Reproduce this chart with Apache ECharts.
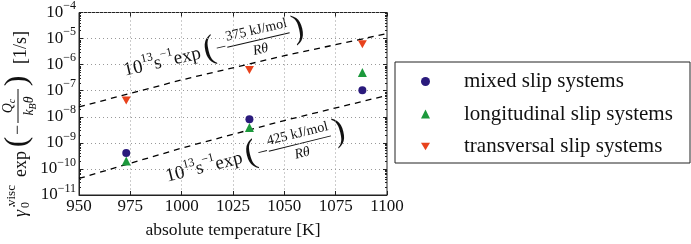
<!DOCTYPE html>
<html>
<head>
<meta charset="utf-8">
<script src="https://cdn.jsdelivr.net/npm/echarts@6/dist/echarts.min.js"></script>
<style>
  html, body { margin: 0; padding: 0; background: #fff; }
  #main { width: 691px; height: 244px; }
</style>
</head>
<body>
<div id="main"></div>
<script>
const tempK = [973, 1033, 1088];
const mixedRate = [4.1e-10, 8.0e-9, 1.05e-7];
const longRate = [2.0e-10, 3.9e-9, 5.0e-7];
const transRate = [4.2e-8, 6.2e-7, 6.0e-6];

// the two dashed reference curves, read at a few temperatures
const fitTemp = [950, 1000, 1050, 1100];
const fit375 = [2.4e-8, 2.6e-7, 2.2e-6, 1.55e-5];
const fit425 = [4.3e-11, 6.3e-10, 7.2e-9, 6.6e-8];

const seriesNames = ['mixed slip systems', 'longitudinal slip systems', 'transversal slip systems'];

const FONT = 'Liberation Serif';
const INK = '#111';
const DOWN_TRI = 'path://M0,0L20,0L10,17Z';

function zip(xs, ys) { return xs.map((x, i) => [x, ys[i]]); }

function txt(x, y, text, size, opts) {
  opts = opts || {};
  return {
    type: 'text', x: x, y: y, silent: true,
    style: {
      text: text, fill: INK,
      fontFamily: FONT, fontSize: size,
      fontStyle: opts.italic ? 'italic' : 'normal',
      textAlign: opts.align || 'left',
      textVerticalAlign: 'middle',
      rich: opts.rich
    }
  };
}

function bar(x1, x2, y) {
  return { type: 'line', silent: true, shape: { x1: x1, y1: y, x2: x2, y2: y }, style: { stroke: INK, lineWidth: 1 } };
}

const supRich = {
  b: { fontSize: 19, fontFamily: FONT, color: INK },
  s: { fontSize: 12, fontFamily: FONT, color: INK, padding: [0, 0, 15, 0] }
};

// 10^13 s^-1 exp(-E / R theta), laid out along the text direction
function arrhenius(x, y, deg, energy) {
  return {
    type: 'group', x: x, y: y, rotation: deg * Math.PI / 180, silent: true,
    children: [
      txt(0, 0, '{b|10}{s|13}{b|s}{s|−1}{b|exp}', 19, { rich: supRich }),
      txt(88, -2, '(', 34, { align: 'center' }),
      txt(100, 0, '−', 19, { align: 'center' }),
      bar(106, 170, 0),
      txt(138, -10, energy + ' kJ/mol', 14, { align: 'center' }),
      txt(138, 10, 'Rθ', 14, { align: 'center', italic: true }),
      txt(179, -2, ')', 34, { align: 'center' })
    ]
  };
}

const subRich = {
  i: { fontSize: 14, fontFamily: FONT, fontStyle: 'italic', color: INK },
  u: { fontSize: 10, fontFamily: FONT, fontStyle: 'italic', color: INK, padding: [8, 0, 0, 0] }
};

const yLabel = {
  type: 'group', x: 21, y: 217, rotation: Math.PI / 2, silent: true,
  children: [
    txt(0, 0, 'γ̇', 18, { italic: true }),
    txt(9, 5, '0', 12),
    txt(11, -9, 'visc', 13),
    txt(40, 0, 'exp', 18),
    txt(75, -3, '(', 32, { align: 'center' }),
    txt(87, -3, '−', 18, { align: 'center' }),
    bar(94, 128, -3),
    txt(111, -13, '{i|Q}{u|c}', 14, { align: 'center', rich: subRich }),
    txt(111, 8, '{i|k}{u|B}{i|θ}', 14, { align: 'center', rich: subRich }),
    txt(136, -3, ')', 32, { align: 'center' }),
    txt(153, 0, '[1/s]', 18)
  ]
};

const scatterBase = { type: 'scatter', symbolSize: 8, z: 5 };

const chart = echarts.init(document.getElementById('main'), null, { renderer: 'canvas' });
chart.setOption({
  backgroundColor: '#fff',
  animation: false,
  grid: { left: 79, right: 304, top: 8, bottom: 37, show: true, borderColor: '#222', borderWidth: 1 },
  xAxis: [{
    type: 'value', min: 950, max: 1100, interval: 25,
    name: 'absolute temperature [K]', nameLocation: 'middle', nameGap: 26,
    nameTextStyle: { fontFamily: FONT, fontSize: 17.5, color: INK },
    axisLine: { show: true, lineStyle: { color: '#222' } },
    axisTick: { inside: true, length: 4, lineStyle: { color: '#222' } },
    axisLabel: { fontFamily: FONT, fontSize: 17, color: INK, margin: 3, formatter: v => String(v) },
    splitLine: { show: true, lineStyle: { type: [1, 3], color: '#999' } }
  }, {
    type: 'value', position: 'top', min: 950, max: 1100, interval: 25,
    axisLine: { show: false }, axisLabel: { show: false },
    axisTick: { inside: true, length: 4, lineStyle: { color: '#222' } },
    splitLine: { show: false }
  }],
  yAxis: [{
    type: 'log', logBase: 10, min: 1e-11, max: 1e-4,
    axisLine: { show: true, lineStyle: { color: '#222' } },
    axisTick: { inside: true, length: 4, lineStyle: { color: '#222' } },
    minorTick: { show: true, splitNumber: 9, length: 2, lineStyle: { color: '#222' } },
    axisLabel: {
      margin: 3,
      formatter: function (v) {
        const e = Math.round(Math.log10(v));
        return '{b|10}{s|−' + Math.abs(e) + '}';
      },
      rich: {
        b: { fontSize: 17, fontFamily: FONT, color: INK },
        s: { fontSize: 12, fontFamily: FONT, color: INK, padding: [0, 0, 13, 0] }
      }
    },
    splitLine: { show: true, lineStyle: { type: [1, 3], color: '#999' } }
  }, {
    type: 'log', logBase: 10, min: 1e-11, max: 1e-4, position: 'right',
    axisLine: { show: false }, axisLabel: { show: false },
    axisTick: { inside: true, length: 4, lineStyle: { color: '#222' } },
    minorTick: { show: true, splitNumber: 9, length: 2, lineStyle: { color: '#222' } },
    splitLine: { show: false }
  }],
  legend: {
    orient: 'vertical', left: 421, top: 71, padding: 0,
    itemWidth: 9, itemHeight: 9, itemGap: 11.5,
    data: seriesNames,
    textStyle: { fontFamily: FONT, fontSize: 21, color: INK, lineHeight: 20, padding: [0, 0, 0, 29] }
  },
  series: [
    {
      type: 'line', data: zip(fitTemp, fit375), symbol: 'none', silent: true,
      lineStyle: { color: '#000', width: 1.3, type: [6, 5] }, z: 3
    },
    {
      type: 'line', data: zip(fitTemp, fit425), symbol: 'none', silent: true,
      lineStyle: { color: '#000', width: 1.3, type: [6, 5] }, z: 3
    },
    Object.assign({}, scatterBase, {
      name: seriesNames[0], symbol: 'circle', data: zip(tempK, mixedRate),
      itemStyle: { color: '#2a1a7c', opacity: 1 }
    }),
    Object.assign({}, scatterBase, {
      name: seriesNames[1], symbol: 'triangle', symbolSize: 9, data: zip(tempK, longRate),
      itemStyle: { color: '#1c993c', opacity: 1 }
    }),
    Object.assign({}, scatterBase, {
      name: seriesNames[2], symbol: DOWN_TRI, symbolSize: [9, 8], data: zip(tempK, transRate),
      itemStyle: { color: '#e8421c', opacity: 1 }
    })
  ],
  graphic: [
    { type: 'rect', silent: true, shape: { x: 395, y: 62, width: 295, height: 101 }, style: { fill: 'none', stroke: '#222', lineWidth: 1 } },
    arrhenius(124, 71, 13, 375),
    arrhenius(166, 177, 14, 425),
    yLabel
  ]
});
</script>
</body>
</html>
